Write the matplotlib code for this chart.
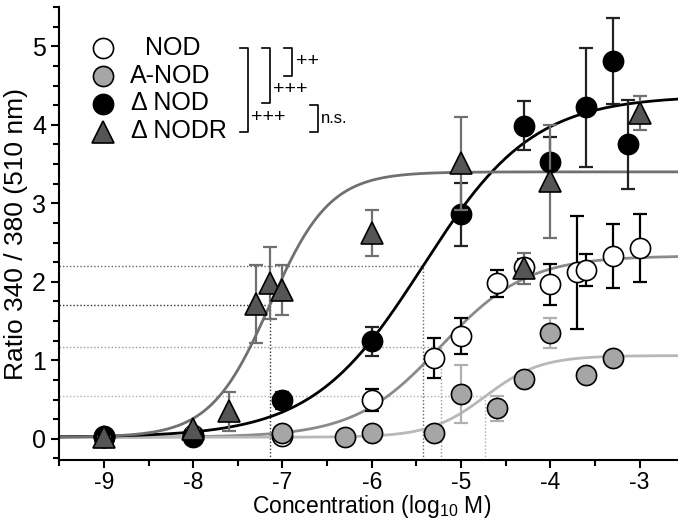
import numpy as np
import matplotlib
matplotlib.use("Agg")
import matplotlib.pyplot as plt
from matplotlib.ticker import MultipleLocator

plt.rcParams["font.family"] = ["Liberation Sans", "DejaVu Sans"]
plt.rcParams["mathtext.default"] = "regular"
plt.rcParams["axes.unicode_minus"] = False

# data (log10 M, ratio 340/380)
nod_x = [-9, -8, -7, -6, -5.3, -5, -4.6, -4.3, -4, -3.7, -3.6, -3.3, -3]
nod_y = [0.02, 0.05, 0.03, 0.50, 1.03, 1.31, 1.98, 2.19, 1.97, 2.12, 2.15, 2.33, 2.43]
nod_err = [0, 0, 0, 0.14, 0.25, 0.23, 0.17, 0.10, 0.26, 0.72, 0.21, 0.41, 0.43]

anod_x = [-9, -8, -7, -6.3, -6, -5.3, -5, -4.6, -4.3, -4, -3.6, -3.3]
anod_y = [0.02, 0.04, 0.07, 0.02, 0.08, 0.07, 0.57, 0.39, 0.76, 1.35, 0.81, 1.03]
anod_err = [0, 0, 0, 0, 0, 0, 0.37, 0.16, 0.05, 0.19, 0, 0]

dnod_x = [-9, -8, -7, -6, -5, -4.3, -4, -3.6, -3.3, -3.13]
dnod_y = [0.03, 0.02, 0.49, 1.24, 2.86, 3.99, 3.53, 4.22, 4.81, 3.75]
dnod_err = [0, 0, 0.11, 0.18, 0.40, 0.31, 0.31, 0.76, 0.55, 0.57]

dnodr_x = [-9, -8, -7.6, -7.3, -7.14, -7, -6, -5, -4.3, -4, -3]
dnodr_y = [0.02, 0.12, 0.35, 1.72, 1.98, 1.90, 2.62, 3.51, 2.17, 3.28, 4.15]
dnodr_err = [0, 0, 0.25, 0.50, 0.46, 0.32, 0.29, 0.59, 0.20, 0.72, 0.22]

# sigmoid fits: bottom, top, logEC50, hill slope
fit_nod = [0.02, 2.33, -5.23, 0.9]
fit_anod = [0.02, 1.06, -4.73, 1.4]
fit_dnod = [0.02, 4.37, -5.43, 0.7]
fit_dnodr = [0.02, 3.40, -7.14, 1.3]


def hill(x, p):
    bottom, top, ec50, h = p
    return bottom + (top - bottom) / (1 + 10 ** ((ec50 - x) * h))


W, H = 678, 521
fig = plt.figure(figsize=(W / 100, H / 100), dpi=100)
ax = fig.add_axes([59.3 / W, 61 / H, 1 - 59.3 / W, (460 - 7) / H])

xmin, xmax = -9.5, -2.57
ymin, ymax = -0.27, 5.5
ax.set_xlim(xmin, xmax)
ax.set_ylim(ymin, ymax)

series = [
    # x, y, err, fit, marker, face, err colour, line colour, dotted colour
    (nod_x, nod_y, nod_err, fit_nod, "o", "white", "black", "#8a8a8a", "#999999"),
    (anod_x, anod_y, anod_err, fit_anod, "o", "#a6a6a6", "#b0b0b0", "#b8b8b8", "#b0b0b0"),
    (dnod_x, dnod_y, dnod_err, fit_dnod, "o", "black", "#222222", "black", "#666666"),
    (dnodr_x, dnodr_y, dnodr_err, fit_dnodr, "^", "#555555", "#707070", "#707070", "#333333"),
]


def msize(m):
    return 15.5 if m == "^" else 14.5


xs = np.linspace(xmin, xmax, 400)
for x, y, e, p, m, fc, ec, lc, dc in series:
    ax.plot(xs, hill(xs, p), color=lc, lw=2, zorder=2)
    half = p[0] + (p[1] - p[0]) / 2
    ax.plot([xmin, p[2]], [half, half], color=dc, lw=1, ls=(0, (1, 1.5)), zorder=1)
    ax.plot([p[2], p[2]], [ymin, half], color=dc, lw=1, ls=(0, (1, 1.5)), zorder=1)

for i, (x, y, e, p, m, fc, ec, lc, dc) in enumerate(series):
    ax.errorbar(x, y, yerr=e, fmt="none", ecolor=ec, elinewidth=1.6,
                capsize=5, capthick=1.6, zorder=3 + 2 * i)
    ax.plot(x, y, ls="none", marker=m, ms=msize(m),
            mfc=fc, mec="black", mew=1.2, zorder=4 + 2 * i)

for side in ["top", "right"]:
    ax.spines[side].set_visible(False)
for side in ["left", "bottom"]:
    ax.spines[side].set_linewidth(1.5)

ax.xaxis.set_major_locator(MultipleLocator(1))
ax.xaxis.set_minor_locator(MultipleLocator(0.5))
ax.yaxis.set_major_locator(MultipleLocator(1))
ax.yaxis.set_minor_locator(MultipleLocator(0.25))
ax.tick_params(which="major", length=6, width=1.5, labelsize=18)
ax.tick_params(axis="x", which="major", pad=2, labelsize=16.5)
ax.tick_params(which="minor", length=4, width=1.5)
ax.set_xlabel("Concentration (log$_{10}$ M)", fontsize=16.5, va="bottom")
ax.xaxis.set_label_coords(372 / W, 1.5 / H, transform=fig.transFigure)
ax.set_ylabel("Ratio 340 / 380 (510 nm)", fontsize=19, labelpad=3)


def fx(px):
    return px / W


def fy(py):
    return 1 - py / H


# legend drawn by hand
leg_names = ["NOD", "A-NOD", "\u0394 NOD", "\u0394 NODR"]
leg_rows = [48, 76, 103.5, 131.5]
leg_text_x = [145, 130, 131, 131]
for (x, y, e, p, m, fc, ec, lc, dc), name, ry, tx in zip(series, leg_names, leg_rows, leg_text_x):
    fig.add_artist(plt.Line2D([fx(102.7)], [fy(ry)], ls="none", marker=m,
                              ms=msize(m), mfc=fc, mec="black", mew=1.2))
    fig.text(fx(tx), fy(ry), name, fontsize=18, va="center", ha="left")

# significance brackets
brackets = [(248.3, 48.3, 131.7), (270, 48.3, 103.3), (292.3, 48.3, 76), (318.3, 105, 131.7)]
for bx, y0, y1 in brackets:
    fig.add_artist(plt.Line2D([fx(bx - 8.5), fx(bx), fx(bx), fx(bx - 8.5)],
                              [fy(y0), fy(y0), fy(y1), fy(y1)], color="black", lw=1.2))

fig.text(fx(251), fy(117), "+++", fontsize=14, va="center", ha="left")
fig.text(fx(273), fy(89), "+++", fontsize=14, va="center", ha="left")
fig.text(fx(296), fy(62), "++", fontsize=14, va="center", ha="left")
fig.text(fx(321), fy(118), "n.s.", fontsize=12, va="center", ha="left")

fig.savefig("out.png", dpi=100)
